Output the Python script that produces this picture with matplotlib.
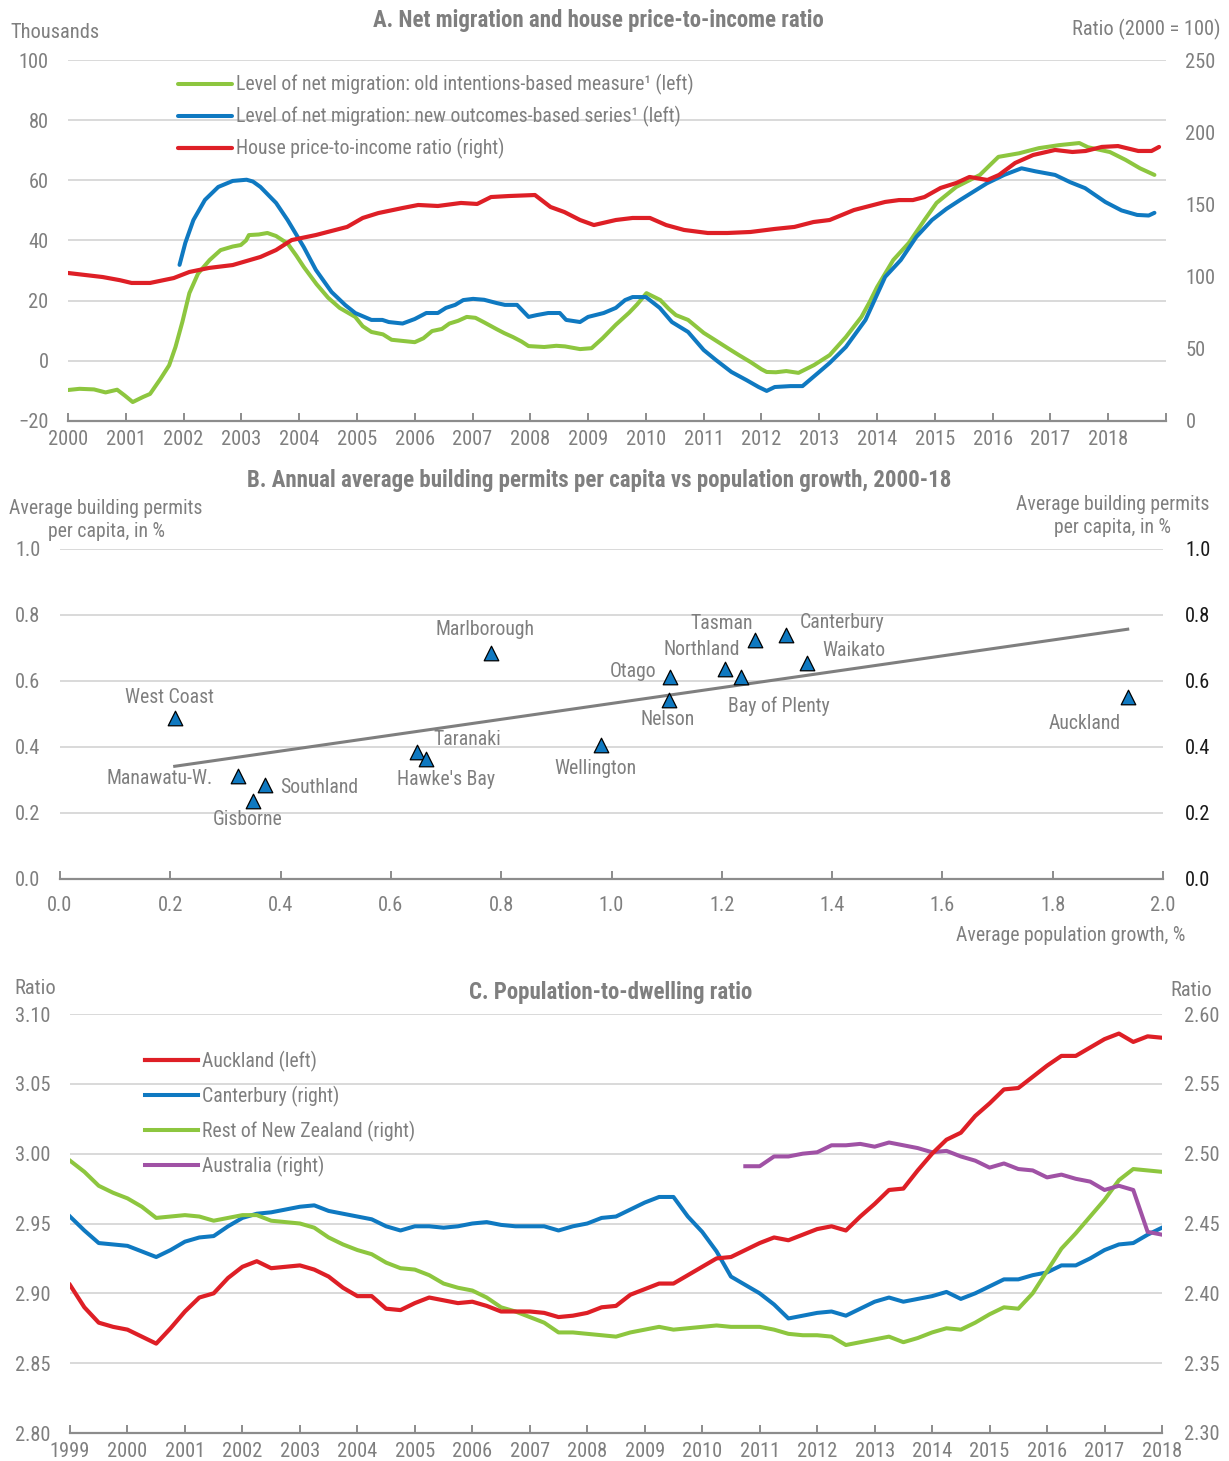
import matplotlib.pyplot as plt
import numpy as np

plt.rcParams['font.family'] = ['Roboto Condensed', 'DejaVu Sans']

GREY = "#7f7f7f"
AXIS = "#8c8c8c"
GRID = "#d9d9d9"
GREEN = "#8dc63f"
BLUE = "#0f79c1"
RED = "#de1f26"
PURPLE = "#a052a5"
FS = 14.7     # ticks, axis notes
FS_SMALL = 14.2  # legends, point labels
FS_TITLE = 16.5

# ---------------- panel A data ----------------
old_years = [2000.0, 2000.2, 2000.45, 2000.65, 2000.85, 2000.98, 2001.12, 2001.3, 2001.42, 2001.6,
             2001.75, 2001.86, 2001.98, 2002.1, 2002.25, 2002.45, 2002.64, 2002.85, 2002.99, 2003.08,
             2003.13, 2003.3, 2003.45, 2003.6, 2003.8, 2003.95, 2004.08, 2004.3, 2004.5, 2004.7,
             2004.97, 2005.1, 2005.25, 2005.45, 2005.6, 2005.8, 2006.0, 2006.15, 2006.3, 2006.47,
             2006.6, 2006.75, 2006.9, 2007.05, 2007.2, 2007.42, 2007.55, 2007.7, 2007.85, 2007.97,
             2008.24, 2008.45, 2008.6, 2008.86, 2009.06, 2009.25, 2009.48, 2009.71, 2009.85, 2010.01,
             2010.25, 2010.4, 2010.52, 2010.73, 2011.0, 2011.14, 2011.41, 2011.61, 2011.81, 2012.0,
             2012.09, 2012.25, 2012.43, 2012.64, 2012.91, 2013.18, 2013.46, 2013.73, 2013.87, 2014.0,
             2014.28, 2014.55, 2014.82, 2015.03, 2015.37, 2015.78, 2015.95, 2016.1, 2016.46, 2016.8,
             2017.15, 2017.5, 2017.65, 2018.03, 2018.3, 2018.55, 2018.8]
old_migration = [-9.7, -9.3, -9.5, -10.5, -9.6, -11.5, -13.7, -12, -11, -6,
                 -1.5, 4.6, 13, 22.5, 29, 33.5, 36.8, 38, 38.5, 40,
                 41.8, 42, 42.5, 41.5, 39, 35, 31.2, 25.5, 21, 17.6,
                 14.6, 11.5, 9.6, 8.8, 7, 6.6, 6.2, 7.5, 9.9, 10.6,
                 12.4, 13.3, 14.6, 14.3, 12.8, 10.5, 9.2, 7.9, 6.4, 4.9,
                 4.6, 5.0, 4.8, 3.9, 4.2, 7.5, 12.0, 16, 18.8, 22.5,
                 20.2, 17.2, 15.2, 13.6, 9.3, 7.6, 4.3, 1.9, -0.4, -2.8,
                 -3.7, -3.8, -3.4, -4, -1.4, 1.9, 7.9, 14.6, 19.5, 24.5,
                 33.5, 39.2, 46.8, 52.5, 57.8, 61.8, 65, 67.8, 69, 70.7,
                 71.7, 72.4, 71, 69.4, 66.8, 64, 61.8]

new_years = [2001.93, 2002.03, 2002.17, 2002.37, 2002.6, 2002.85, 2003.09, 2003.2, 2003.33, 2003.6,
             2003.8, 2004.08, 2004.29, 2004.56, 2004.8, 2004.97, 2005.25, 2005.44, 2005.55, 2005.79,
             2006.0, 2006.2, 2006.4, 2006.54, 2006.7, 2006.84, 2007.01, 2007.2, 2007.42, 2007.56,
             2007.77, 2007.97, 2008.11, 2008.31, 2008.51, 2008.62, 2008.86, 2009.0, 2009.27, 2009.48,
             2009.64, 2009.77, 2010.0, 2010.24, 2010.45, 2010.73, 2011.0, 2011.21, 2011.48, 2011.74,
             2011.95, 2012.09, 2012.23, 2012.5, 2012.71, 2012.98, 2013.18, 2013.46, 2013.8, 2014.14,
             2014.41, 2014.68, 2014.95, 2015.2, 2015.44, 2015.9, 2016.2, 2016.5, 2016.74, 2017.08,
             2017.34, 2017.6, 2017.95, 2018.23, 2018.5, 2018.7, 2018.8]
new_migration = [31.9, 39.2, 46.8, 53.5, 57.8, 59.8, 60.2, 59.6, 57.8, 52.5,
                 46.8, 37.8, 30.2, 22.9, 18.5, 15.9, 13.6, 13.6, 12.9, 12.4,
                 13.9, 15.9, 15.9, 17.6, 18.6, 20.2, 20.6, 20.3, 19.2, 18.6,
                 18.6, 14.6, 15.2, 15.9, 15.9, 13.6, 12.9, 14.6, 15.9, 17.6,
                 20.2, 21.2, 21.2, 17.6, 12.9, 9.6, 3.6, 0.3, -3.7, -6.4,
                 -8.7, -10, -8.7, -8.4, -8.4, -4, -0.7, 4.6, 13.6, 27.9,
                 33.5, 41.2, 46.8, 50.5, 53.5, 59, 61.8, 64, 63, 61.8,
                 59.4, 57.4, 52.8, 50, 48.5, 48.3, 49.2]

pti_years = [2000.0, 2000.6, 2000.9, 2001.1, 2001.42, 2001.83, 2002.1, 2002.44, 2002.85, 2003.33,
             2003.6, 2003.87, 2004.29, 2004.83, 2005.1, 2005.37, 2005.79, 2006.06, 2006.4, 2006.8,
             2007.08, 2007.32, 2007.63, 2008.08, 2008.35, 2008.59, 2008.86, 2009.1, 2009.48, 2009.77,
             2010.07, 2010.35, 2010.66, 2011.07, 2011.41, 2011.81, 2012.23, 2012.57, 2012.9, 2013.18,
             2013.6, 2014.14, 2014.38, 2014.62, 2014.82, 2015.1, 2015.37, 2015.6, 2015.91, 2016.11,
             2016.39, 2016.7, 2017.08, 2017.38, 2017.61, 2017.89, 2018.17, 2018.52, 2018.75, 2018.88]
price_to_income = [102.5, 99.7, 97.5, 95.6, 95.6, 99, 103.2, 106, 108, 113.6,
                   118.4, 125.3, 128.8, 134.4, 140.6, 144, 147.5, 149.6, 148.9, 151,
                   150.3, 155.1, 155.8, 156.5, 148.2, 144.7, 139.2, 135.7, 139.2, 140.6,
                   140.6, 135.7, 132.3, 130.2, 130.2, 130.9, 133, 134.4, 137.8, 139.2,
                   146.1, 151.7, 153, 153, 155.1, 161.4, 164.8, 169, 166.9, 170.4,
                   178.7, 184.2, 187.7, 186.3, 187, 189.8, 190.4, 187, 187, 189.8]

# ---------------- panel B data ----------------
regions = ["West Coast", "Manawatu-W.", "Southland", "Gisborne", "Taranaki", "Hawke's Bay",
           "Marlborough", "Wellington", "Otago", "Nelson", "Northland", "Bay of Plenty",
           "Tasman", "Canterbury", "Waikato", "Auckland"]
pop_growth = [0.208, 0.323, 0.372, 0.350, 0.647, 0.664, 0.781, 0.981, 1.106, 1.104,
              1.206, 1.235, 1.260, 1.316, 1.354, 1.936]
permits = [0.488, 0.312, 0.285, 0.236, 0.385, 0.364, 0.685, 0.406, 0.612, 0.542,
           0.636, 0.612, 0.724, 0.739, 0.655, 0.552]
# label placement (offset points, alignment)
label_pos = {
    "West Coast": (-4, 15, "center"), "Manawatu-W.": (-18, -2, "right"),
    "Southland": (11, -2, "left"), "Gisborne": (-4, -13, "center"),
    "Taranaki": (12, 9, "left"), "Hawke's Bay": (14, -15, "center"),
    "Marlborough": (-4, 17, "center"), "Wellington": (-4, -17, "center"),
    "Otago": (-10, 4, "right"), "Nelson": (-1, -14, "center"),
    "Northland": (-17, 14, "center"), "Bay of Plenty": (27, -21, "center"),
    "Tasman": (-24, 12, "center"), "Canterbury": (10, 9, "left"),
    "Waikato": (11, 9, "left"), "Auckland": (-31, -19, "center"),
}

# ---------------- panel C data (quarterly from 1999Q1) ----------------
auckland = [2.906, 2.890, 2.879, 2.876, 2.874, 2.869, 2.864, 2.875, 2.887, 2.897,
            2.900, 2.911, 2.919, 2.923, 2.918, 2.919, 2.920, 2.917, 2.912, 2.904,
            2.898, 2.898, 2.889, 2.888, 2.893, 2.897, 2.895, 2.893, 2.894, 2.891,
            2.887, 2.887, 2.887, 2.886, 2.883, 2.884, 2.886, 2.890, 2.891, 2.899,
            2.903, 2.907, 2.907, 2.913, 2.919, 2.925, 2.926, 2.931, 2.936, 2.940,
            2.938, 2.942, 2.946, 2.948, 2.945, 2.955, 2.964, 2.974, 2.975, 2.988,
            3.000, 3.010, 3.015, 3.027, 3.036, 3.046, 3.047, 3.055, 3.063, 3.070,
            3.070, 3.076, 3.082, 3.086, 3.080, 3.084, 3.083]
canterbury = [2.455, 2.445, 2.436, 2.435, 2.434, 2.430, 2.426, 2.431, 2.437, 2.440,
              2.441, 2.448, 2.454, 2.457, 2.458, 2.460, 2.462, 2.463, 2.459, 2.457,
              2.455, 2.453, 2.448, 2.445, 2.448, 2.448, 2.447, 2.448, 2.450, 2.451,
              2.449, 2.448, 2.448, 2.448, 2.445, 2.448, 2.450, 2.454, 2.455, 2.460,
              2.465, 2.469, 2.469, 2.455, 2.444, 2.430, 2.412, 2.406, 2.400, 2.392,
              2.382, 2.384, 2.386, 2.387, 2.384, 2.389, 2.394, 2.397, 2.394, 2.396,
              2.398, 2.401, 2.396, 2.400, 2.405, 2.410, 2.410, 2.413, 2.415, 2.420,
              2.420, 2.425, 2.431, 2.435, 2.436, 2.442, 2.447]
rest_nz = [2.495, 2.487, 2.477, 2.472, 2.468, 2.462, 2.454, 2.455, 2.456, 2.455,
           2.452, 2.454, 2.456, 2.456, 2.452, 2.451, 2.450, 2.447, 2.440, 2.435,
           2.431, 2.428, 2.422, 2.418, 2.417, 2.413, 2.407, 2.404, 2.402, 2.397,
           2.390, 2.387, 2.383, 2.379, 2.372, 2.372, 2.371, 2.370, 2.369, 2.372,
           2.374, 2.376, 2.374, 2.375, 2.376, 2.377, 2.376, 2.376, 2.376, 2.374,
           2.371, 2.370, 2.370, 2.369, 2.363, 2.365, 2.367, 2.369, 2.365, 2.368,
           2.372, 2.375, 2.374, 2.379, 2.385, 2.390, 2.389, 2.400, 2.416, 2.432,
           2.443, 2.455, 2.467, 2.481, 2.489, 2.488, 2.487]
# Australia from 2010Q4
australia = [2.491, 2.491, 2.498, 2.498, 2.500, 2.501, 2.506, 2.506, 2.507, 2.505,
             2.508, 2.506, 2.504, 2.501, 2.502, 2.498, 2.495, 2.490, 2.493, 2.489,
             2.488, 2.483, 2.485, 2.482, 2.480, 2.474, 2.477, 2.474, 2.444, 2.442]

W, H = 1229, 1461


def box(left, top, right, bottom):
    return [left / W, 1 - bottom / H, (right - left) / W, (bottom - top) / H]


def style(ax, xpad=6.5):
    for s in ["top", "left", "right"]:
        ax.spines[s].set_visible(False)
    ax.spines["bottom"].set_color(AXIS)
    ax.spines["bottom"].set_linewidth(1.6)
    ax.tick_params(axis="x", direction="in", length=6, width=1.4, color=AXIS,
                   labelcolor=GREY, labelsize=FS, pad=xpad)
    ax.tick_params(axis="y", length=0, labelcolor=GREY, labelsize=FS, pad=14)
    ax.yaxis.grid(True, color=GRID, lw=1.4)
    ax.set_axisbelow(True)


def twin(ax, color=GREY, pad=14):
    ax2 = ax.twinx()
    for s in ax2.spines.values():
        s.set_visible(False)
    ax2.tick_params(axis="y", length=0, labelcolor=color, labelsize=FS, pad=pad)
    return ax2


fig = plt.figure(figsize=(W / 100, H / 100), dpi=100)

# ================= Panel A =================
axA = fig.add_axes(box(68, 60, 1166, 421))
style(axA)
axA.set_xlim(2000, 2019)
axA.set_xticks(range(2000, 2020))
axA.set_xticklabels([str(y) for y in range(2000, 2019)] + [""])
axA.set_ylim(-20, 100)
axA.set_yticks(range(-20, 101, 20))
l1, = axA.plot(old_years, old_migration, color=GREEN, lw=2.9, solid_capstyle="round")
l2, = axA.plot(new_years, new_migration, color=BLUE, lw=2.9, solid_capstyle="round")
axA2 = twin(axA)
axA2.set_ylim(0, 250)
axA2.set_yticks(range(0, 251, 50))
l3, = axA2.plot(pti_years, price_to_income, color=RED, lw=3.0, solid_capstyle="round")
axA2.legend([l1, l2, l3],
            ["Level of net migration: old intentions-based measure\u00b9 (left)",
             "Level of net migration: new outcomes-based series\u00b9 (left)",
             "House price-to-income ratio (right)"],
            loc="upper left", bbox_to_anchor=(0.1, 0.961), frameon=False,
            borderpad=0, borderaxespad=0, handlelength=2.75, handletextpad=0.2,
            labelspacing=0.56, fontsize=FS_SMALL, labelcolor=GREY)
fig.text(598 / W, 1 - 20 / H, "A. Net migration and house price-to-income ratio",
         ha="center", va="center", fontsize=FS_TITLE, fontweight="bold", color=GREY)
fig.text(10 / W, 1 - 33 / H, "Thousands", ha="left", va="center", fontsize=FS, color=GREY)
fig.text(1220 / W, 1 - 29 / H, "Ratio (2000 = 100)", ha="right", va="center",
         fontsize=FS, color=GREY)

# ================= Panel B =================
axB = fig.add_axes(box(60, 549, 1163, 879))
style(axB, xpad=12)
axB.set_xlim(0, 2)
axB.set_ylim(0, 1)
axB.set_xticks(np.round(np.arange(0, 2.01, 0.2), 1))
axB.xaxis.set_major_formatter(plt.FormatStrFormatter("%.1f"))
axB.set_yticks(np.round(np.arange(0, 1.01, 0.2), 1))
axB.yaxis.set_major_formatter(plt.FormatStrFormatter("%.1f"))
axB2 = twin(axB, color="#1a1a1a", pad=16)
axB2.set_ylim(0, 1)
axB2.set_yticks(np.round(np.arange(0, 1.01, 0.2), 1))
axB2.yaxis.set_major_formatter(plt.FormatStrFormatter("%.1f"))

slope, icpt = np.polyfit(pop_growth, permits, 1)
xs = np.array([min(pop_growth), max(pop_growth)])
axB2.plot(xs, slope * xs + icpt, color=GREY, lw=2.2, zorder=2)
axB2.scatter(pop_growth, permits, marker="^", s=110, color=BLUE, edgecolors="black",
             linewidths=0.9, zorder=3)
for name, x, y in zip(regions, pop_growth, permits):
    dx, dy, ha = label_pos[name]
    axB2.annotate(name, (x, y), xytext=(dx, dy), textcoords="offset points",
                  ha=ha, va="center", fontsize=FS_SMALL, color=GREY)

fig.text(599 / W, 1 - 480 / H,
         "B. Annual average building permits per capita vs population growth, 2000-18",
         ha="center", va="center", fontsize=FS_TITLE, fontweight="bold", color=GREY)
fig.text(106 / W, 1 - 520 / H, "Average building permits\nper capita, in %", ha="center",
         va="center", fontsize=FS_SMALL, color=GREY, linespacing=1.3)
fig.text(1113 / W, 1 - 516 / H, "Average building permits\nper capita, in %", ha="center",
         va="center", fontsize=FS_SMALL, color=GREY, linespacing=1.3)
fig.text(1185 / W, 1 - 936 / H, "Average population growth, %", ha="right", va="center",
         fontsize=FS_SMALL, color=GREY)

# ================= Panel C =================
q_all = 1999 + 0.25 * np.arange(len(auckland))
q_aus = 2010.75 + 0.25 * np.arange(len(australia))

axC = fig.add_axes(box(70, 1014, 1162, 1433))
style(axC)
axC.set_xlim(1999, 2018)
axC.set_xticks(range(1999, 2019))
axC.set_ylim(2.80, 3.10)
axC.set_yticks(np.round(np.arange(2.80, 3.101, 0.05), 2))
axC.yaxis.set_major_formatter(plt.FormatStrFormatter("%.2f"))
axC2 = twin(axC, pad=16)
axC2.set_ylim(2.30, 2.60)
axC2.set_yticks(np.round(np.arange(2.30, 2.601, 0.05), 2))
axC2.yaxis.set_major_formatter(plt.FormatStrFormatter("%.2f"))
c2, = axC2.plot(q_all, canterbury, color=BLUE, lw=2.9)
c3, = axC2.plot(q_all, rest_nz, color=GREEN, lw=2.9)
c4, = axC2.plot(q_aus, australia, color=PURPLE, lw=2.9)
# Auckland is on the left scale; left 2.80-3.10 maps onto right 2.30-2.60
c1, = axC2.plot(q_all, np.array(auckland) - 0.5, color=RED, lw=3.0)
axC2.legend([c1, c2, c3, c4],
            ["Auckland (left)", "Canterbury (right)", "Rest of New Zealand (right)",
             "Australia (right)"],
            loc="upper left", bbox_to_anchor=(0.069, 0.912), frameon=False,
            borderpad=0, borderaxespad=0, handlelength=2.65, handletextpad=0.2,
            labelspacing=0.7, fontsize=FS_SMALL, labelcolor=GREY)
fig.text(611 / W, 1 - 992 / H, "C. Population-to-dwelling ratio", ha="center",
         va="center", fontsize=FS_TITLE, fontweight="bold", color=GREY)
fig.text(14 / W, 1 - 989 / H, "Ratio", ha="left", va="center", fontsize=FS, color=GREY)
fig.text(1212 / W, 1 - 991 / H, "Ratio", ha="right", va="center", fontsize=FS, color=GREY)

fig.savefig("out.png", dpi=100)
